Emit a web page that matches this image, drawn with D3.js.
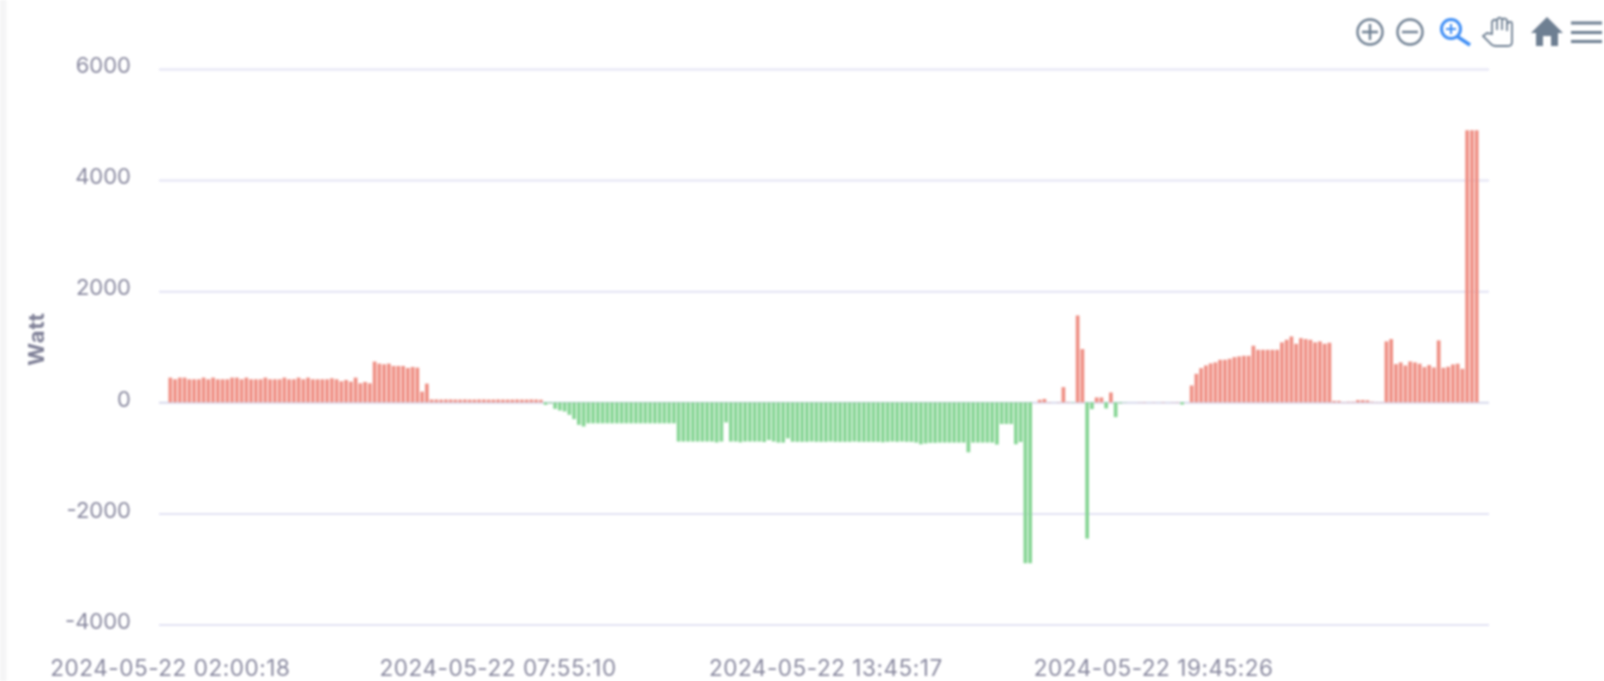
<!DOCTYPE html>
<html><head><meta charset="utf-8">
<script src="https://cdn.jsdelivr.net/npm/d3@7"></script>
<style>
html,body{margin:0;padding:0;background:#fff;overflow:hidden}
svg{display:block;filter:blur(0.9px)}
text{font-family:Inter,"Noto Sans",sans-serif}
</style></head><body>
<svg id="c" width="1604" height="681"></svg>
<script>
// Watt per sample
const wattMorning = [444,414,444,444,414,414,414,444,414,444,414,414,414,444,444,414,444,414,414,414,444,414,414,414,444,414,414,444,414,444,414,414,414,414,432,414,378,402,372,444,342,366,342,733,696,684,696,654,654,654,618,636,624,192,336];
const wattIdle = [50,50,48,50,50,48,48,50,48,48,50,50,48,48,50,48,48,48,50,48,48,50,48,45];
const wattSolarRamp = [-45,-20,-117,-147,-165,-225,-303,-405,-435];
const wattSolarLow = [-378,-378,-378,-378,-378,-378,-378,-378,-378,-378,-378,-378,-378,-378,-378,-378,-378,-378,-378];
const wattSolarHigh = [-706,-706,-706,-706,-706,-706,-706,-706,-723,-706,-363,-706,-706,-720,-706,-706,-706,-706,-715,-680,-706,-725,-725,-650,-710,-712,-712,-712,-706,-712,-712,-712,-706,-712,-712,-712,-712,-706,-712,-712,-712,-712,-712,-720,-712,-706,-712,-706,-712,-712,-725,-755,-740,-730,-730,-725,-725,-725,-725,-725,-725,-900,-725,-725,-725,-725,-725,-760,-390,-390,-390,-755,-715];
const wattEvening = [-2897,-2897,0,45,60,5,0,5,273,8,-8,1563,958,-2453,-123,87,87,-110,177,-267,-20,-5,0,0,3,5,0,3,0,5,0,3,5,-40,0];
const wattNight = [303,513,615,663,700,718,765,765,783,813,826,837,837,1018,945,945,945,945,945,1078,1125,1185,1053,1155,1138,1125,1078,1096,1053,1072,25,25,5,10,10,40,40,35,10,5,5,1096,1138,688,718,663,735,718,694,633,670,627,1114,621,640,681,694,603,4897,4897,4897];
const values = [].concat(wattMorning,wattIdle,wattSolarRamp,wattSolarLow,wattSolarHigh,wattEvening,wattNight);

const xTickLabels = ["2024-05-22 02:00:18","2024-05-22 07:55:10","2024-05-22 13:45:17","2024-05-22 19:45:26"];
const xTickSamples = [0,69,138,207];
const yTicks = [6000,4000,2000,0,-2000,-4000];
const yTitle = "Watt";

const svg = d3.select("#c");
svg.append("rect").attr("x",0).attr("y",0).attr("width",6.5).attr("height",681).attr("fill","#f5f5f6");

const x = d3.scaleBand().domain(d3.range(values.length)).range([168,1479]).paddingInner(0.22).paddingOuter(0.1);
const y = d3.scaleLinear().domain([-4000,6000]).range([624.5,69]);

// y axis + grid
const ya = svg.append("g").attr("transform","translate(159,0)")
  .call(d3.axisLeft(y).tickValues(yTicks).tickSize(-1330).tickPadding(28).tickFormat(d=>d<0?"-"+Math.abs(d):d));
ya.select(".domain").remove();
ya.selectAll(".tick line").attr("stroke",d=>d===0?"#d8d9ec":"#e3e3f4").attr("stroke-width",2);
ya.selectAll("text").attr("fill","#8a8aa0").attr("font-size",22).attr("dy","0.17em");

// bars
svg.append("g").selectAll("rect").data(values).join("rect")
  .attr("x",(d,i)=>x(i))
  .attr("width",x.bandwidth())
  .attr("y",d=>d>=0?y(d):y(0))
  .attr("height",d=>Math.abs(y(d)-y(0)))
  .attr("fill",d=>d>=0?"#ef8f84":"#86d594");

// x axis labels
const xa = svg.append("g").attr("transform","translate(0,654)")
  .call(d3.axisBottom(x).tickValues(xTickSamples).tickSize(0).tickPadding(6)
  .tickFormat((d,i)=>xTickLabels[i]));
xa.select(".domain").remove();
xa.selectAll("text").attr("fill","#8a8aa0").attr("font-size",22.5).attr("letter-spacing","0.55px");

svg.append("text").attr("transform","translate(44,339) rotate(-90)")
  .attr("text-anchor","middle").attr("font-size",22).attr("font-weight",700).attr("letter-spacing","1px").attr("fill","#7f8097").text(yTitle);

// toolbar icons
const ic = svg.append("g").attr("fill","none").attr("stroke","#6e7f92").attr("stroke-width",2.4);
ic.append("circle").attr("cx",1370).attr("cy",32).attr("r",12.5);
ic.append("path").attr("d","M1362 32H1378M1370 24V40");
ic.append("circle").attr("cx",1410).attr("cy",32).attr("r",12.5);
ic.append("path").attr("d","M1402 32H1418");
const zm = svg.append("g").attr("fill","none").attr("stroke","#3f8ef5").attr("stroke-width",3);
zm.append("circle").attr("cx",1451).attr("cy",29).attr("r",9.5);
zm.append("path").attr("d","M1458 37L1470 45").attr("stroke-width",3.6);
zm.append("path").attr("d","M1446 29H1456M1451 24V34").attr("stroke-width",2);
ic.append("path").attr("stroke-width",1.8).attr("d","M1487 33L1483 36L1490 43Q1492 46 1496 46H1508Q1512 46 1512 42V24Q1512 21 1509 22L1507 24V20Q1504 17 1502 20V19Q1499 16 1497 20Q1493 19 1492 22V34Z M1497 20V30M1502 20V30M1507 24V31");
svg.append("path").attr("fill","#6e7f92").attr("d","M1547 17L1563 33H1558V46H1551V36H1543V46H1536V33H1531Z");
svg.append("path").attr("stroke","#6e7f92").attr("stroke-width",3.2).attr("d","M1571 23H1602M1571 32.5H1602M1571 41.5H1602");
</script>
</body></html>
